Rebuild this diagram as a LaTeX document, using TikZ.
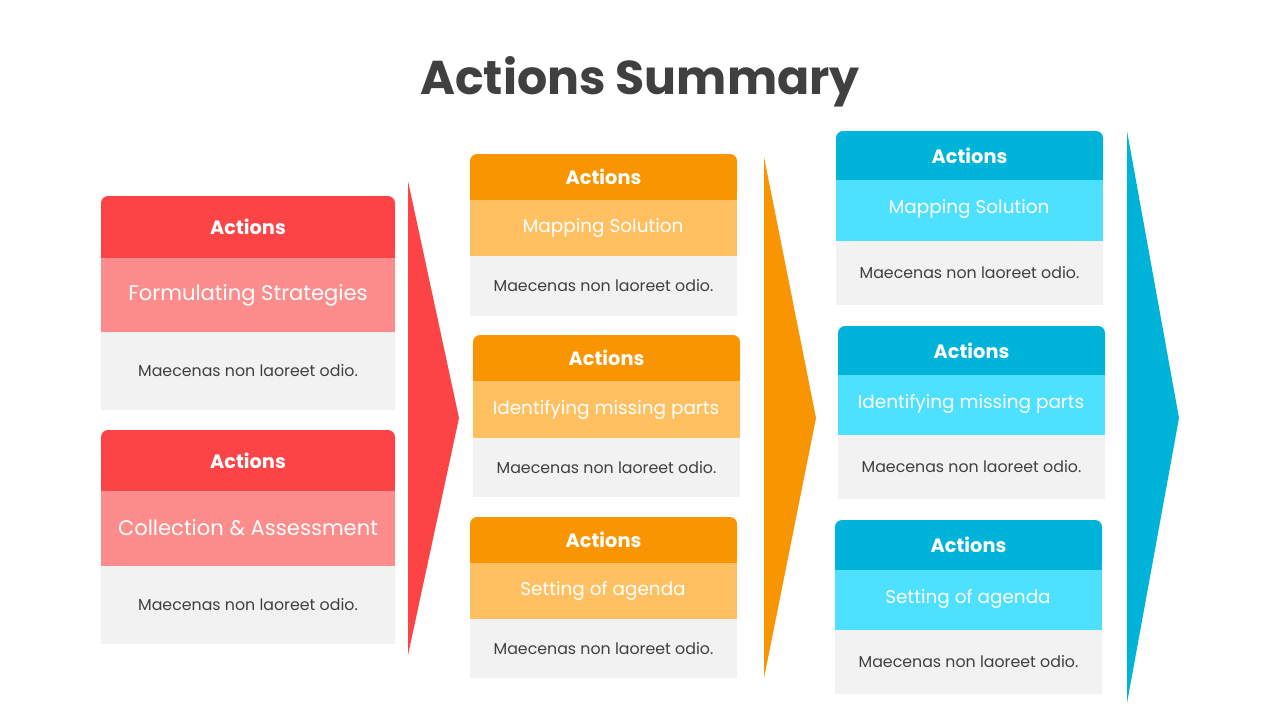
\documentclass[tikz,border=0pt]{standalone}
\usepackage{fontspec}
\setmainfont{Poppins}
\definecolor{titlegray}{HTML}{404040}
\definecolor{redD}{HTML}{FC4446}
\definecolor{redL}{HTML}{FD8C8C}
\definecolor{orangeD}{HTML}{F89500}
\definecolor{orangeL}{HTML}{FFC062}
\definecolor{blueD}{HTML}{00B3D8}
\definecolor{blueL}{HTML}{4DE0FF}
\definecolor{cardgray}{HTML}{F2F2F2}
\tikzset{
  head/.style={text=white,font=\fontsize{11}{13}\selectfont\bfseries},
  step name/.style={text=white,font=\fontsize{10.5}{12}\selectfont},
  body/.style={text=titlegray,font=\fontsize{9}{11}\selectfont}
}
% card: name, x0, x1, y0, y1, y2, y3, dark, light, subtitle, body size
\newcommand\actcard[9]{%
  \fill[#8,rounded corners=4] (#2,#4) rectangle (#3,#5);
  \fill[#8] (#2,#4+8) rectangle (#3,#5);
  \fill[#9] (#2,#5) rectangle (#3,#6);
  \fill[cardgray] (#2,#6) rectangle (#3,#7);
  \node[head] (#1-head) at ({(#2+#3)/2},{(#4+#5)/2}) {Actions};
  \node[body] (#1-body) at ({(#2+#3)/2},{(#6+#7)/2}) {Maecenas non laoreet odio.};
}
\begin{document}
\begin{tikzpicture}[x=0.02cm,y=-0.02cm]
\useasboundingbox (0,0) rectangle (1280,720);
\node[text=titlegray,font=\fontsize{27}{30}\selectfont\bfseries] (title) at (640,82) {Actions Summary};

% red column
\actcard{ra}{101}{395}{196}{258}{332}{410}{redD}{redL}
\node[step name,font=\fontsize{12}{14}\selectfont] (ra-name) at (248,295) {Formulating  Strategies};
\actcard{rb}{101}{395}{430}{491}{566}{644}{redD}{redL}
\node[step name,font=\fontsize{12}{14}\selectfont] (rb-name) at (248,528) {Collection \& Assessment};
\fill[redD] (408,181) -- (459,418) -- (408,655) -- cycle;

% orange column
\actcard{oa}{470}{737}{154}{200}{256}{316}{orangeD}{orangeL}
\node[step name] (oa-name) at (603,228) {Mapping Solution};
\actcard{ob}{473}{740}{335}{381}{438}{497}{orangeD}{orangeL}
\node[step name] (ob-name) at (606,410) {Identifying missing parts};
\actcard{oc}{470}{737}{517}{563}{619}{678}{orangeD}{orangeL}
\node[step name] (oc-name) at (603,591) {Setting of agenda};
\fill[orangeD] (764,157) -- (816,418) -- (764,678) -- cycle;

% blue column
\actcard{ba}{836}{1103}{131}{180}{241}{305}{blueD}{blueL}
\node[step name] (ba-name) at (969,209) {Mapping Solution};
\actcard{bb}{838}{1105}{326}{375}{435}{499}{blueD}{blueL}
\node[step name] (bb-name) at (971,404) {Identifying missing parts};
\actcard{bc}{835}{1102}{520}{570}{630}{694}{blueD}{blueL}
\node[step name] (bc-name) at (968,599) {Setting of agenda};
\fill[blueD] (1127,131) -- (1179,418) -- (1127,703) -- cycle;
\end{tikzpicture}
\end{document}
